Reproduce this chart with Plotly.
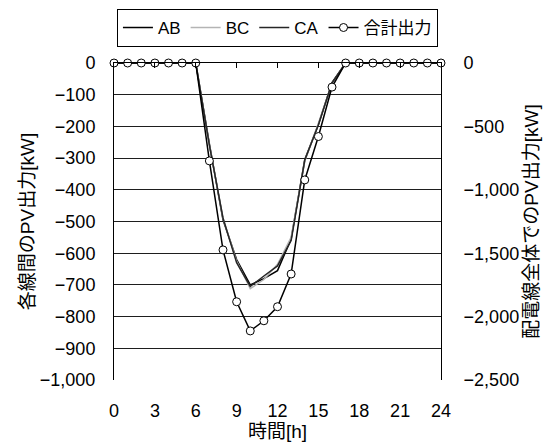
import plotly.graph_objects as go

# Hourly PV output per line section (left axis) and feeder total (right axis)
hours = list(range(25))
ab = [0, 0, 0, 0, 0, 0, 0, -255, -495, -620, -700, -680, -655, -555, -305, -195, -62, 0, 0, 0, 0, 0, 0, 0, 0]
bc = [0, 0, 0, 0, 0, 0, 0, -258, -490, -625, -712, -683, -635, -550, -310, -190, -65, 0, 0, 0, 0, 0, 0, 0, 0]
ca = [0, 0, 0, 0, 0, 0, 0, -259, -489, -630, -705, -672, -640, -560, -307, -195, -63, 0, 0, 0, 0, 0, 0, 0, 0]
total = [0, 0, 0, 0, 0, 0, 0, -772, -1474, -1883, -2113, -2033, -1922, -1664, -922, -580, -190, 0, 0, 0, 0, 0, 0, 0, 0]

x_ticks = [0, 3, 6, 9, 12, 15, 18, 21, 24]

FONT = "Liberation Sans, Noto Sans CJK JP"

fig = go.Figure()
fig.add_trace(go.Scatter(x=hours, y=ab, name="AB", mode="lines",
                         line=dict(color="#000000", width=1.5)))
fig.add_trace(go.Scatter(x=hours, y=bc, name="BC", mode="lines",
                         line=dict(color="#b4b4b4", width=1.5)))
fig.add_trace(go.Scatter(x=hours, y=ca, name="CA", mode="lines",
                         line=dict(color="#262626", width=1.5)))
fig.add_trace(go.Scatter(x=hours, y=total, name="合計出力", mode="lines+markers", yaxis="y2",
                         line=dict(color="#000000", width=1.5),
                         marker=dict(symbol="circle", size=8, color="white",
                                     line=dict(color="#000000", width=1)),
                         cliponaxis=False))

fig.update_layout(
    width=544, height=448,
    margin=dict(l=114, r=103, t=63, b=68, autoexpand=False),
    paper_bgcolor="white", plot_bgcolor="white",
    font=dict(family=FONT, size=18, color="#000000"),
    showlegend=True,
    legend=dict(orientation="h", xref="container", yref="container",
                x=0.51, xanchor="center", y=0.98, yanchor="top",
                bordercolor="#000000", borderwidth=1, font=dict(size=17),
                itemwidth=30, tracegroupgap=0),
    xaxis=dict(range=[0, 24], tickvals=x_ticks, ticks="", showgrid=False,
               showline=False, zeroline=False, ticklabelstandoff=18,
               title=dict(text="時間[h]", font=dict(size=19), standoff=4)),
    xaxis2=dict(range=[0, 24], tickvals=x_ticks, overlaying="x", side="top",
                anchor="y", showticklabels=False, ticks="inside", ticklen=5,
                tickcolor="#000000", showline=True, linecolor="#000000",
                showgrid=False, zeroline=False),
    yaxis=dict(range=[-1000, 0], dtick=100, tickformat=",", showgrid=True,
               gridcolor="#1e1e1e", gridwidth=1, showline=True, linecolor="#000000",
               zeroline=False, ticks="", ticklabelstandoff=14,
               title=dict(text="各線間のPV出力[kW]", font=dict(size=19), standoff=0)),
    yaxis2=dict(range=[-2500, 0], dtick=500, tickformat=",", overlaying="y",
                side="right", showgrid=False, showline=True, linecolor="#000000",
                zeroline=False, ticks="", ticklabelstandoff=18,
                title=dict(text="配電線全体でのPV出力[kW]", font=dict(size=19), standoff=6)),
)

# invisible point so the top axis is drawn
fig.add_trace(go.Scatter(x=[0], y=[0], xaxis="x2", mode="markers",
                         marker=dict(opacity=0), showlegend=False, hoverinfo="skip"))

fig.write_html("out.html")
